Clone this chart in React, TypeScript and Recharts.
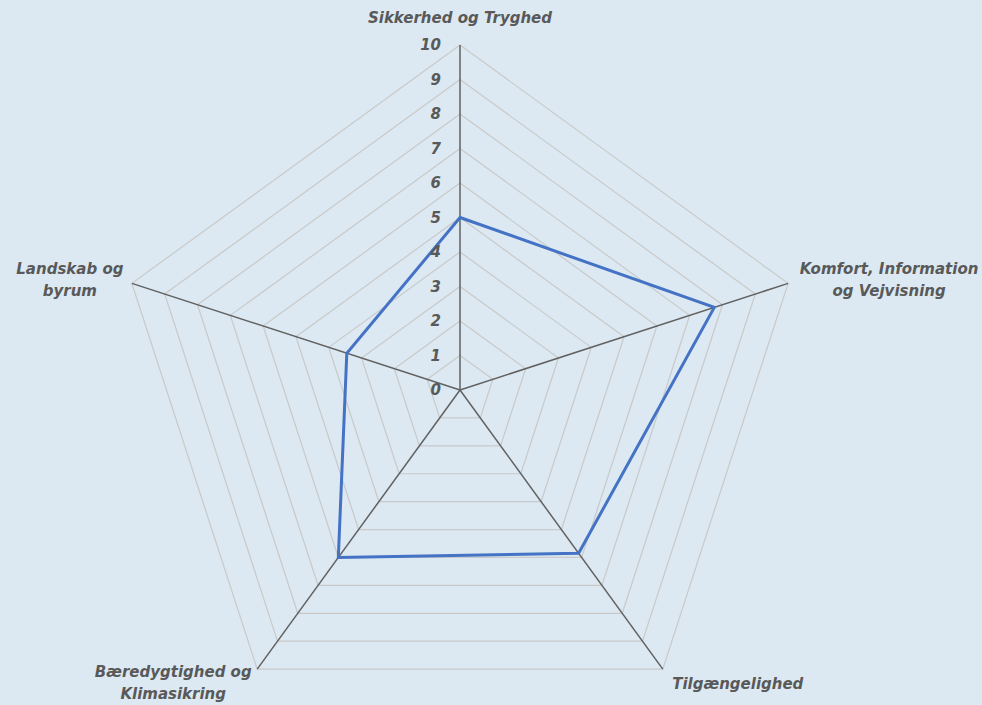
import React from 'react';
import { RadarChart, Radar, PolarGrid, PolarAngleAxis, PolarRadiusAxis } from 'recharts';

const categories = [
  'Sikkerhed og Tryghed',
  'Komfort, Information og Vejvisning',
  'Tilgængelighed',
  'Bæredygtighed og Klimasikring',
  'Landskab og byrum',
];
const categoryLines = [
  ['Sikkerhed og Tryghed'],
  ['Komfort, Information', 'og Vejvisning'],
  ['Tilgængelighed'],
  ['Bæredygtighed og', 'Klimasikring'],
  ['Landskab og', 'byrum'],
];
const scores = [5, 7.75, 5.85, 6, 3.45];
const radiusTicks = [0, 1, 2, 3, 4, 5, 6, 7, 8, 9, 10];

const data = categories.map((name, i) => ({ name, score: scores[i] }));

const CX = 460;
const CY = 390;
const R = 345;
const FONT = '"DejaVu Sans", sans-serif';
const TEXT = '#595959';

// label centre offsets from each outer vertex
const labelOffsets = [
  [0, -27],
  [101, -3],
  [75, 15],
  [-84, 14],
  [-62, -3],
];

function AngleTick(props: any) {
  const i = props.index;
  const a = ((90 - i * 72) * Math.PI) / 180;
  const vx = CX + R * Math.cos(a);
  const vy = CY - R * Math.sin(a);
  const [dx, dy] = labelOffsets[i];
  const lines = categoryLines[i];
  const lh = 22;
  const top = vy + dy - ((lines.length - 1) * lh) / 2;
  return (
    <g>
      {lines.map((t, k) => (
        <text
          key={k}
          x={vx + dx}
          y={top + k * lh}
          textAnchor="middle"
          dominantBaseline="central"
          fill={TEXT}
          fontFamily={FONT}
          fontSize={15}
          fontWeight={700}
          fontStyle="italic"
        >
          {t}
        </text>
      ))}
    </g>
  );
}

function RadiusTick(props: any) {
  const { x, y, payload } = props;
  return (
    <text
      x={x - 19}
      y={y}
      textAnchor="end"
      dominantBaseline="central"
      fill={TEXT}
      fontFamily={FONT}
      fontSize={15}
      fontWeight={700}
      fontStyle="italic"
    >
      {payload.value}
    </text>
  );
}

export default function App() {
  return (
    <div style={{ position: 'absolute', left: 0, top: 0, width: 982, height: 705, background: '#dce9f2' }}>
      <RadarChart
        width={982}
        height={705}
        data={data}
        cx={CX}
        cy={CY}
        outerRadius={R}
        margin={{ top: 0, right: 0, bottom: 0, left: 0 }}
      >
        <PolarGrid gridType="polygon" radialLines={false} stroke="#c9c9c9" strokeWidth={1.2} />
        <PolarGrid gridType="polygon" polarRadius={[]} stroke="#616161" strokeWidth={1.5} />
        <PolarAngleAxis dataKey="name" tick={AngleTick} tickLine={false} axisLine={false} />
        <PolarRadiusAxis
          angle={90}
          domain={[0, 10]}
          ticks={radiusTicks as any}
          tickCount={11}
          tick={RadiusTick}
          axisLine={false}
          tickLine={false}
        />
        <Radar
          dataKey="score"
          stroke="#4472c4"
          strokeWidth={3}
          fill="none"
          fillOpacity={0}
          isAnimationActive={false}
        />
      </RadarChart>
    </div>
  );
}
